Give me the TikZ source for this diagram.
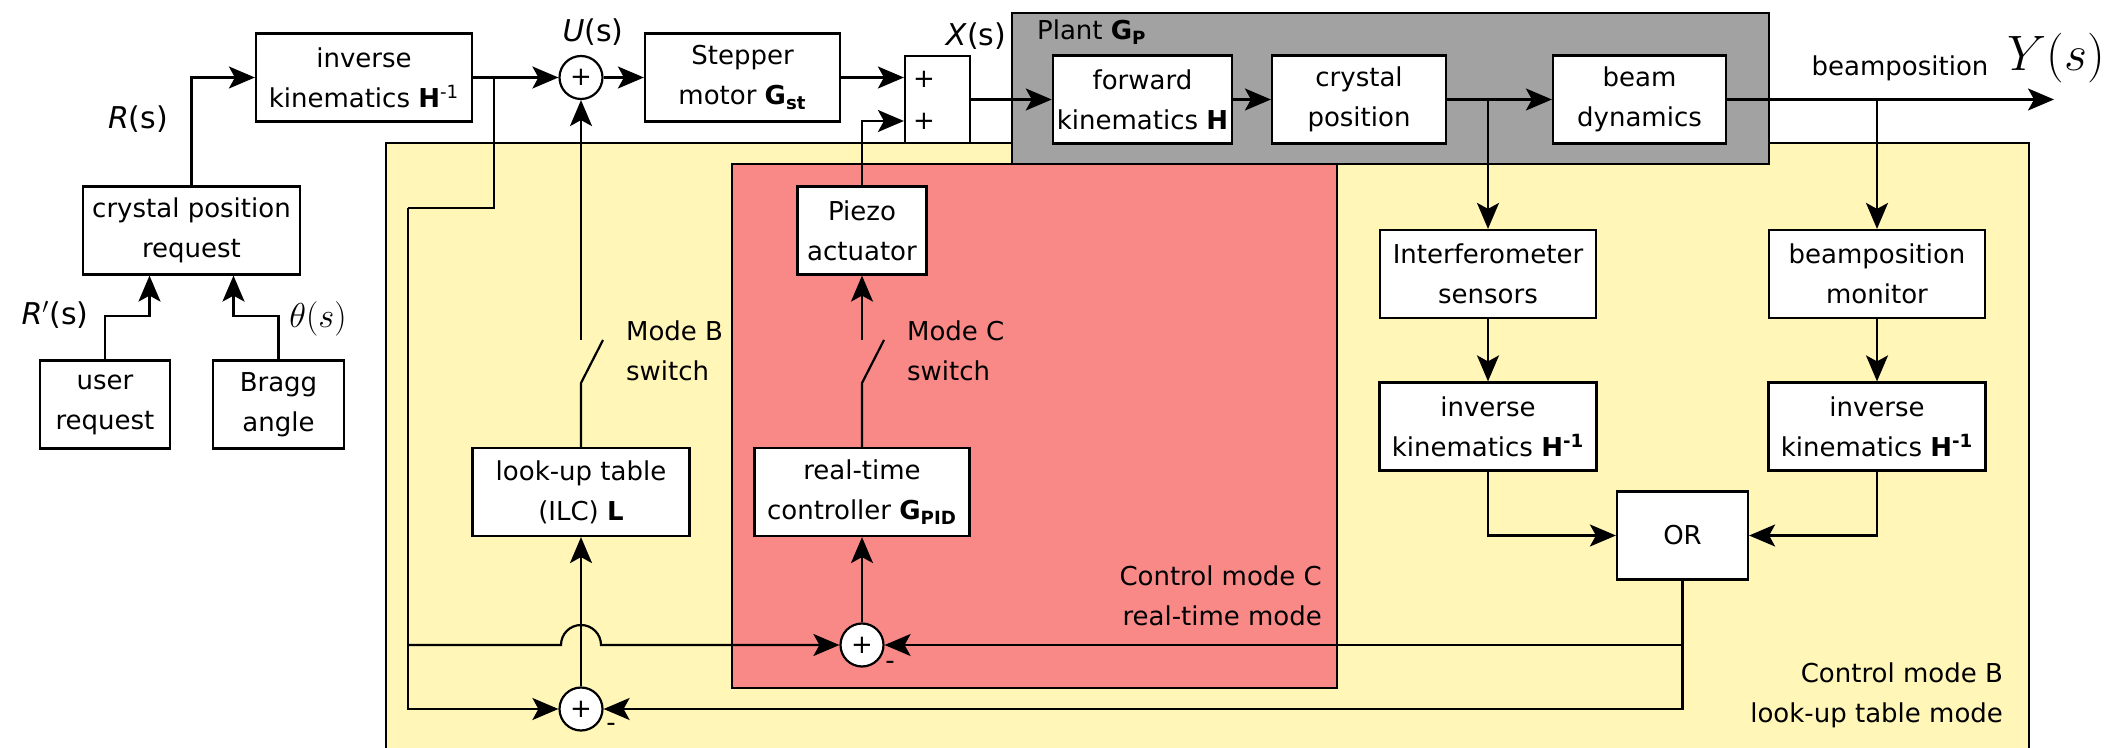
\documentclass[tikz,border=0pt]{standalone}
\usepackage{fontspec}
\setmainfont{DejaVu Sans}
\usepackage{amsmath}
\usetikzlibrary{arrows.meta,positioning,calc}
\definecolor{modebcol}{RGB}{255,246,183}
\definecolor{modeccol}{RGB}{249,137,135}
\definecolor{plantcol}{RGB}{162,162,162}
\newcommand{\Hinv}{\textbf{H}\textsuperscript{-1}}
\newcommand{\Hinvb}{\textbf{H\textsuperscript{-1}}}

\begin{document}
\begin{tikzpicture}[
  x=0.5pt,y=-0.5pt,
  font=\fontsize{13}{20}\selectfont,
  line width=1.1pt,
  blk/.style={draw,fill=white,align=center,minimum height=44pt,inner sep=2pt},
  sum/.style={circle,draw,fill=white,minimum size=21.5pt,inner sep=0pt},
  lbl/.style={inner sep=0pt,align=left},
  sig/.style={inner sep=0pt,font=\fontsize{15}{18}\selectfont},
  >={Stealth[length=13pt,width=11pt,inset=3pt]}]
\useasboundingbox (0,0) rectangle (2109,748);

% regions
\draw[fill=modebcol] (386,143) rectangle (2029,770);
\draw[fill=modeccol] (732,164) rectangle (1337,688);
\draw[fill=plantcol] (1012,13) rectangle (1769,164);

% request side
\node[blk,minimum width=108.5pt] (req) at (191.5,230.5) {crystal position\\request};
\node[blk,minimum width=65pt] (usr) at (105,404.5) {user\\request};
\node[blk,minimum width=65.5pt] (brg) at (278.5,404.5) {Bragg\\angle};

% forward path
\node[blk,minimum width=108pt] (ik) at (364,77.5) {inverse\\kinematics \Hinv};
\node[sum] (usum) at (581,77.5) {+};
\node[blk,minimum width=97.5pt] (stp) at (742.5,77.5) {Stepper\\motor \textbf{G}\textsubscript{\textbf{st}}};
\node[blk,minimum width=32.5pt,minimum height=43.5pt] (xsum) at (937.5,99.5) {};
\node (xp1) at (924,79) {+};
\node (xp2) at (924,121) {+};

% plant
\node[blk,minimum width=85.5pt] (fk) at (1142.5,99.5) {forward\\kinematics \textbf{H}};
\node[blk,minimum width=87pt] (cp) at (1359,99.5) {crystal\\position};
\node[blk,minimum width=86.5pt] (bd) at (1639.5,99.5) {beam\\dynamics};

% measurement
\node[blk,minimum width=108pt] (itf) at (1488,274) {Interferometer\\sensors};
\node[blk,minimum width=108pt] (bpm) at (1877,274) {beamposition\\monitor};
\node[blk,minimum width=108.5pt] (ik2) at (1488,426.5) {inverse\\kinematics \Hinvb};
\node[blk,minimum width=108.5pt] (ik3) at (1877,426.5) {inverse\\kinematics \Hinvb};
\node[blk,minimum width=65.5pt] (or) at (1682.5,535.5) {OR};

% mode C
\node[blk,minimum width=64.5pt] (pz) at (862,230.5) {Piezo\\actuator};
\node[blk,minimum width=107.5pt] (rtc) at (862,492) {real-time\\controller \textbf{G}\textsubscript{\textbf{PID}}};
\node[sum] (csum) at (862,645) {+};

% mode B
\node[blk,minimum width=108.5pt] (lut) at (581,492) {look-up table\\(ILC) \textbf{L}};
\node[sum] (bsum) at (581,709) {+};

% labels
\node[sig] (ulab) at (593,32) {\textit{U}(s)};
\node[sig] (xlab) at (976,36) {\textit{X}(s)};
\node[sig] (rlab) at (138,119) {\textit{R}(s)};
\node[sig] (rplab) at (55,315) {\textit{R}$'$(s)};
\node[sig] (thlab) at (318,319) {\fontsize{17}{18}\selectfont$\theta(s)$};
\node[lbl,anchor=west] (plab) at (1036,32) {Plant \textbf{G}\textsubscript{\textbf{P}}};
\node[lbl] (bplab) at (1900,68) {beamposition};
\node[lbl] (ylab) at (2056,58) {\fontsize{24}{26}\selectfont$Y(s)$};
\node[lbl,anchor=west] (mbsw) at (625,351) {Mode B\\switch};
\node[lbl,anchor=west] (mcsw) at (906,351) {Mode C\\switch};
\node[lbl,anchor=east,align=right] (mclab) at (1323,596) {Control mode C\\real-time mode};
\node[lbl,anchor=east,align=right] (mblab) at (2004,695) {Control mode B\\look-up table mode};
\node[lbl] (bminus) at (611,727) {-};
\node[lbl] (cminus) at (890,665) {-};

% request connectors
\draw[->] (usr.north) -- ++(0,-43) -| ([xshift=-21pt]req.south);
\draw[->] (brg.north) -- ++(0,-43) -| ([xshift=21pt]req.south);
\draw[->] (req.north) |- (ik.west);

% forward connectors
\draw[->] (ik.east) -- (usum.west);
\draw[->] (usum.east) -- (stp.west);
\draw[->] (stp.east) -- (stp.east -| xsum.west);
\draw[->] (xsum.east) -- (fk.west);
\draw[->] (fk) -- (cp);
\draw[->] (cp) -- (bd);
\coordinate (yout) at (2054,99.5);
\draw[->] (bd.east) -- (yout);

% measurement connectors
\coordinate (tapi) at (1488,99.5);
\coordinate (tapb) at (1877,99.5);
\draw[->] (tapi) -- (itf.north);
\draw[->] (tapb) -- (bpm.north);
\draw[->] (itf) -- (ik2);
\draw[->] (bpm) -- (ik3);
\draw[->] (ik2.south) |- (or.west);
\draw[->] (ik3.south) |- (or.east);

% feedback
\draw[->] (or.south) |- (bsum.east);
\coordinate (orc) at (1682.5,645);
\draw[->] (orc) -- (csum.east);
\coordinate (tapu) at (494,77.5);
\coordinate (fbl) at (408,208);
\draw (tapu) |- (fbl);
\draw[->] (fbl) |- (bsum.west);
\coordinate (fbc) at (408,645);
\draw[->] (fbc) -- (561,645) arc[start angle=180,end angle=0,radius=10pt] -- (csum.west);

% mode B switch
\coordinate (swb) at (581,383);
\coordinate (swbt) at (581,340);
\draw[->] (bsum) -- (lut);
\draw (lut.north) -- (swb) -- (603,340);
\draw[->] (swbt) -- (usum.south);

% mode C switch
\coordinate (swc) at (862,383);
\coordinate (swct) at (862,340);
\draw[->] (csum) -- (rtc);
\draw (rtc.north) -- (swc) -- (884,340);
\draw[->] (swct) -- (pz.south);
\draw[->] (pz.north) |- (xsum.west |- xp2);
\end{tikzpicture}
\end{document}
